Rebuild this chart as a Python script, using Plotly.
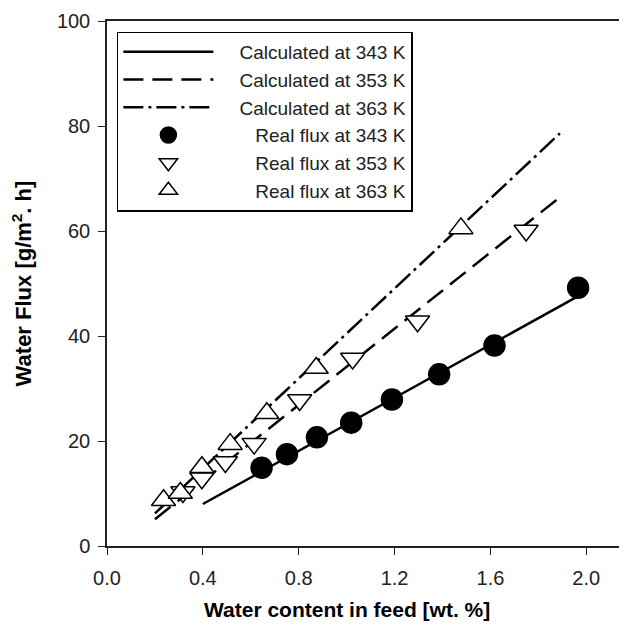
import plotly.graph_objects as go

# measured points (water content wt.%, flux g/m2.h)
x_real_343 = [0.645, 0.751, 0.876, 1.019, 1.189, 1.386, 1.617, 1.966]
y_real_343 = [14.9, 17.5, 20.7, 23.5, 27.9, 32.7, 38.2, 49.2]

x_real_353 = [0.317, 0.396, 0.494, 0.614, 0.804, 1.025, 1.296, 1.749]
y_real_353 = [10.3, 12.9, 16.0, 19.5, 27.8, 35.7, 42.8, 60.1]

x_real_363 = [0.236, 0.306, 0.396, 0.514, 0.667, 0.873, 1.477]
y_real_363 = [8.7, 10.1, 15.0, 19.4, 25.3, 33.9, 60.5]

# model lines (end points of straight fits)
x_calc_343 = [0.40, 1.97]
y_calc_343 = [8.0, 47.7]
x_calc_353 = [0.20, 1.90]
y_calc_353 = [5.1, 66.8]
x_calc_363 = [0.20, 1.89]
y_calc_363 = [6.2, 78.6]

FONT = "Liberation Sans, Arial, sans-serif"
NB = "\u00a0"  # non-breaking spaces push the legend labels right, like the original

fig = go.Figure()

for xs, ys, name, dash in [
    (x_calc_343, y_calc_343, "Calculated at 343 K", "solid"),
    (x_calc_353, y_calc_353, "Calculated at 353 K", "20px,9px"),
    (x_calc_363, y_calc_363, "Calculated at 363 K", "20px,5px,3px,5px"),
]:
    fig.add_trace(
        go.Scatter(
            x=xs,
            y=ys,
            mode="lines",
            name=NB * 4 + name,
            line=dict(color="black", width=2.5, dash=dash),
        )
    )

for xs, ys, name, symbol, fill, size in [
    (x_real_343, y_real_343, "Real flux at 343 K", "circle", "black", 21),
    (x_real_353, y_real_353, "Real flux at 353 K", "triangle-down", "white", 21),
    (x_real_363, y_real_363, "Real flux at 363 K", "triangle-up", "white", 21),
]:
    fig.add_trace(
        go.Scatter(
            x=xs,
            y=ys,
            mode="markers",
            name=NB * 7 + name,
            marker=dict(symbol=symbol, size=size, color=fill, line=dict(color="black", width=1.5)),
        )
    )

# the page body adds an 8px margin, so the figure is 8px smaller than the window
fig.update_layout(
    width=619,
    height=622,
    template="plotly_white",
    plot_bgcolor="white",
    paper_bgcolor="white",
    margin=dict(l=99, r=0, t=13, b=84),
    font=dict(family=FONT, size=20, color="black"),
    legend=dict(
        x=0.019,
        y=0.98,
        xanchor="left",
        yanchor="top",
        bgcolor="white",
        bordercolor="black",
        borderwidth=1.5,
        itemwidth=90,
        font=dict(size=19, color="#222"),
        tracegroupgap=0,
    ),
)

# x title sits centred under x = 1.0 in the original, not under the plot area
fig.add_annotation(
    text="<b>Water content in feed [wt. %]</b>",
    x=1.0,
    xref="x",
    y=-0.12,
    yref="paper",
    xanchor="center",
    yanchor="middle",
    showarrow=False,
    font=dict(size=21, color="black"),
)

fig.update_xaxes(
    range=[0, 2.17],
    tickvals=[0.0, 0.4, 0.8, 1.2, 1.6, 2.0],
    ticktext=["0.0", "0.4", "0.8", "1.2", "1.6", "2.0"],
    showgrid=False,
    zeroline=False,
    showline=True,
    linecolor="#222",
    linewidth=1.5,
    mirror=True,
    ticks="outside",
    ticklen=7,
    tickcolor="#222",
    ticklabelstandoff=6,
    tickfont=dict(size=20, color="#222"),
)
fig.update_yaxes(
    range=[0, 100],
    tickvals=[0, 20, 40, 60, 80, 100],
    showgrid=False,
    zeroline=False,
    showline=True,
    linecolor="#222",
    linewidth=1.5,
    ticks="outside",
    ticklen=7,
    tickcolor="#222",
    ticklabelstandoff=4,
    tickfont=dict(size=20, color="#222"),
    title=dict(text="Water Flux [g/m<sup>2</sup>. h]", font=dict(size=22, weight="bold"), standoff=22),
)

fig.write_html("out.html")
